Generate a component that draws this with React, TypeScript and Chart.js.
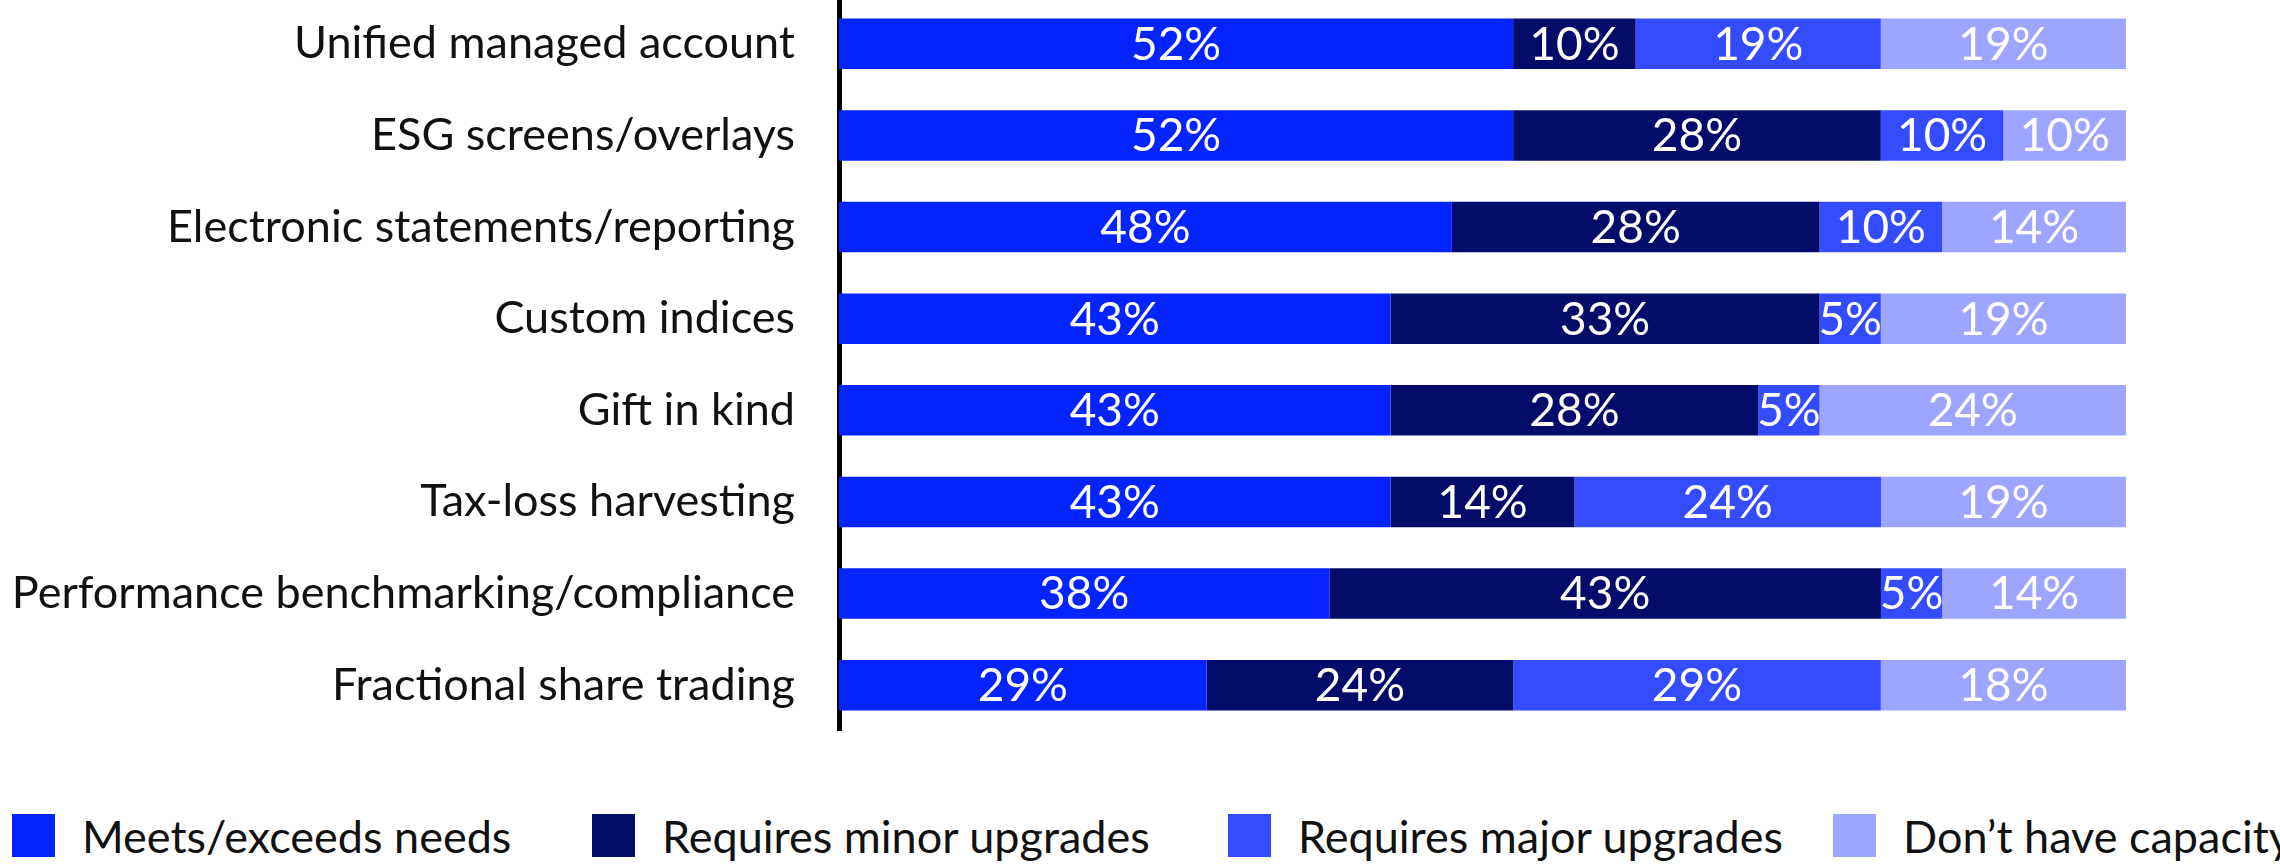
import React, { useEffect, useRef } from "react";
import { Chart, registerables } from "chart.js";

Chart.register(...registerables);

const categories = [
  "Unified managed account",
  "ESG screens/overlays",
  "Electronic statements/reporting",
  "Custom indices",
  "Gift in kind",
  "Tax-loss harvesting",
  "Performance benchmarking/compliance",
  "Fractional share trading",
];
const seriesNames = [
  "Meets/exceeds needs",
  "Requires minor upgrades",
  "Requires major upgrades",
  "Don\u2019t have capacity",
];

// Segment lengths (% of respondents) as measured from the bars
const meetsValues = [52.38, 52.38, 47.62, 42.86, 42.86, 42.86, 38.1, 28.57];
const minorValues = [9.52, 28.57, 28.57, 33.33, 28.57, 14.29, 42.86, 23.81];
const majorValues = [19.05, 9.52, 9.52, 4.76, 4.76, 23.81, 4.76, 28.57];
const capacityValues = [19.05, 9.53, 14.29, 19.05, 23.81, 19.04, 14.28, 19.05];

// Printed labels (%) as shown in the chart
const meetsLabels = [52, 52, 48, 43, 43, 43, 38, 29];
const minorLabels = [10, 28, 28, 33, 28, 14, 43, 24];
const majorLabels = [19, 10, 10, 5, 5, 24, 5, 29];
const capacityLabels = [19, 10, 14, 19, 24, 19, 14, 18];

const seriesColors = ["#0323FF", "#030D69", "#344BFF", "#9CA5FF"];

const FONT = "Lato, 'Noto Sans', sans-serif";

const allLabels = [meetsLabels, minorLabels, majorLabels, capacityLabels];

const valueLabels = {
  id: "valueLabels",
  afterDatasetsDraw(chart: any) {
    const ctx = chart.ctx;
    ctx.save();
    ctx.font = `46px ${FONT}`;
    ctx.fillStyle = "#ffffff";
    ctx.textAlign = "center";
    ctx.textBaseline = "middle";
    chart.data.datasets.forEach((_ds: any, di: number) => {
      const meta = chart.getDatasetMeta(di);
      meta.data.forEach((bar: any, i: number) => {
        const p = bar.getProps(["x", "y", "base"], true);
        ctx.fillText(`${allLabels[di][i]}%`, (p.x + p.base) / 2, p.y + 1);
      });
    });
    ctx.restore();
  },
};

const legendLefts = [12, 592, 1228, 1833];

export default function App() {
  const canvasRef = useRef<HTMLCanvasElement | null>(null);

  useEffect(() => {
    document.body.style.margin = "0";
    const canvas = canvasRef.current;
    if (!canvas) return;
    const allValues = [meetsValues, minorValues, majorValues, capacityValues];
    const chart = new Chart(canvas, {
      type: "bar",
      data: {
        labels: categories,
        datasets: seriesNames.map((name, i) => ({
          label: name,
          data: allValues[i],
          backgroundColor: seriesColors[i],
          borderWidth: 0,
          categoryPercentage: 1,
          barPercentage: 0.551,
        })),
      },
      options: {
        indexAxis: "y",
        responsive: false,
        animation: false,
        devicePixelRatio: 1,
        layout: { padding: { left: 0, right: 154, top: 0, bottom: 0 } },
        plugins: {
          legend: { display: false },
          tooltip: { enabled: false },
        },
        scales: {
          x: {
            stacked: true,
            min: 0,
            max: 100,
            display: false,
          },
          y: {
            stacked: true,
            grid: { display: false, drawTicks: false },
            border: { display: true, color: "#000000", width: 5 },
            ticks: {
              color: "#111111",
              padding: 44,
              font: { family: FONT, size: 45 },
            },
            afterFit: (scale: any) => {
              scale.width = 839;
              scale.paddingTop = 0;
              scale.paddingBottom = 0;
            },
          },
        },
      },
      plugins: [valueLabels],
    } as any);
    return () => chart.destroy();
  }, []);

  return (
    <div style={{ position: "absolute", left: 0, top: 0, width: 2280, height: 866, overflow: "hidden", background: "#fff" }}>
      <canvas
        ref={canvasRef}
        width={2280}
        height={733}
        style={{ position: "absolute", left: 0, top: -2, width: 2280, height: 733 }}
      />
      {seriesNames.map((name, i) => (
        <div
          key={name}
          style={{
            position: "absolute",
            left: legendLefts[i],
            top: 814,
            height: 43,
            display: "flex",
            alignItems: "center",
            whiteSpace: "nowrap",
            fontFamily: FONT,
            fontSize: 45,
            color: "#111111",
          }}
        >
          <span style={{ display: "inline-block", width: 43, height: 43, background: seriesColors[i], marginRight: 27 }} />
          <span>{name}</span>
        </div>
      ))}
    </div>
  );
}
